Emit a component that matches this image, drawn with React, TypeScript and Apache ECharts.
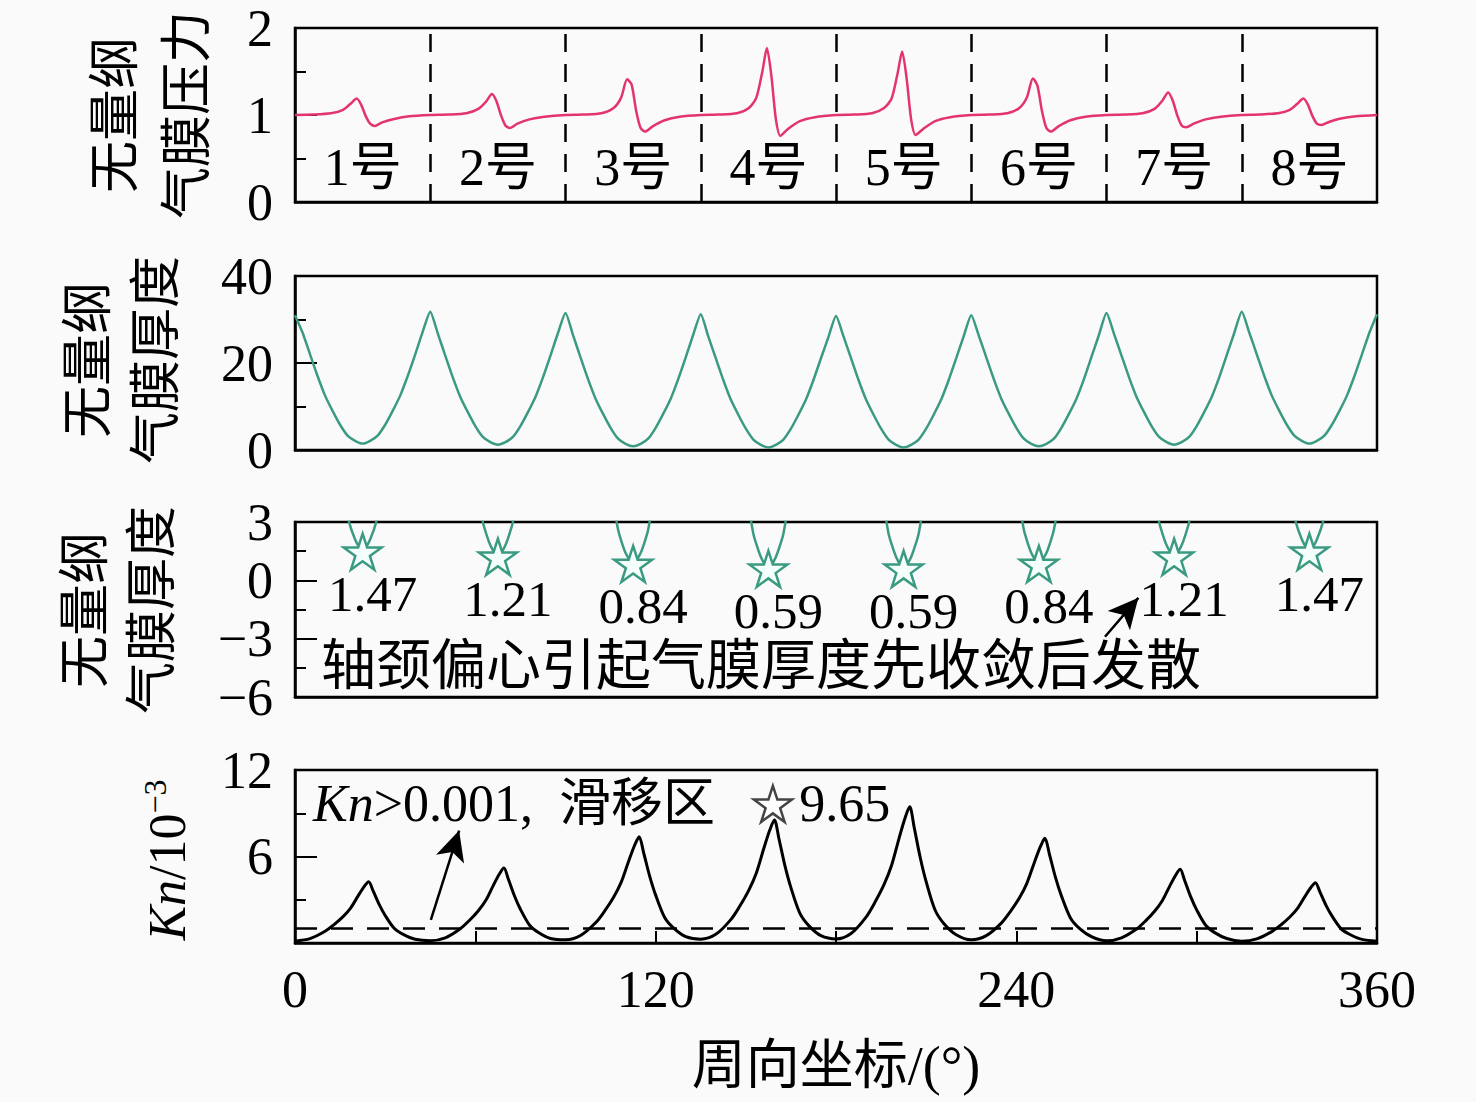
import React, { useEffect, useRef } from "react";
import * as echarts from "echarts";

// ---------- data ----------
const padStarts = [0, 45, 90, 135, 180, 225, 270, 315];
const padNames = ["1号", "2号", "3号", "4号", "5号", "6号", "7号", "8号"];
const padCenters = [22.5, 67.5, 112.5, 157.5, 202.5, 247.5, 292.5, 337.5];
const padBoundaries = [45, 90, 135, 180, 225, 270, 315];

// dimensionless film pressure (offset inside each pad, deg)
const pOffsets = [0, 6, 12, 16, 18.5, 20.5, 22, 23.5, 25, 26.5, 29, 33, 38];
const p1 = [1.0, 1.005, 1.02, 1.06, 1.13, 1.19, 1.12, 0.99, 0.9, 0.875, 0.915, 0.955, 0.985];
const p2 = [1.0, 1.005, 1.02, 1.07, 1.15, 1.24, 1.16, 1.0, 0.88, 0.85, 0.9, 0.95, 0.98];
const p3 = [1.0, 1.005, 1.02, 1.08, 1.2, 1.41, 1.35, 1.05, 0.85, 0.81, 0.87, 0.94, 0.98];
const p4 = [1.0, 1.005, 1.02, 1.08, 1.2, 1.5, 1.77, 1.45, 0.95, 0.76, 0.84, 0.93, 0.975];
const p5 = [1.0, 1.005, 1.02, 1.08, 1.19, 1.48, 1.73, 1.42, 0.95, 0.77, 0.84, 0.93, 0.975];
const p6 = [1.0, 1.005, 1.02, 1.08, 1.2, 1.42, 1.34, 1.05, 0.85, 0.81, 0.87, 0.94, 0.98];
const p7 = [1.0, 1.005, 1.02, 1.07, 1.16, 1.26, 1.17, 1.0, 0.88, 0.86, 0.9, 0.95, 0.98];
const p8 = [1.0, 1.005, 1.02, 1.06, 1.13, 1.19, 1.12, 0.99, 0.9, 0.885, 0.92, 0.96, 0.985];
const pEnd = 1.0;

// dimensionless film thickness
const hOffsets = [0, 2.5, 5, 7.5, 10, 12.5, 15, 17.5, 20, 22.5, 25, 27.5, 30, 32.5, 35, 37.5, 40, 42.5];
const h1 = [31.0, 27.0, 22.0, 17.0, 12.5, 9.0, 5.8, 3.3, 2.1, 1.47, 2.1, 3.3, 5.8, 9.0, 12.5, 17.0, 22.0, 27.2];
const h2 = [31.8, 26.8, 21.7, 16.7, 12.2, 8.7, 5.5, 3.0, 1.8, 1.21, 1.8, 3.0, 5.5, 8.7, 12.2, 16.7, 21.7, 26.9];
const h3 = [31.5, 26.4, 21.3, 16.3, 11.8, 8.3, 5.1, 2.6, 1.4, 0.84, 1.4, 2.6, 5.1, 8.3, 11.8, 16.3, 21.3, 26.5];
const h4 = [31.2, 26.1, 21.1, 16.1, 11.6, 8.1, 4.9, 2.4, 1.2, 0.59, 1.2, 2.4, 4.9, 8.1, 11.6, 16.1, 21.1, 26.0];
const h5 = [30.8, 26.1, 21.1, 16.1, 11.6, 8.1, 4.9, 2.4, 1.2, 0.59, 1.2, 2.4, 4.9, 8.1, 11.6, 16.1, 21.1, 26.2];
const h6 = [31.0, 26.3, 21.3, 16.3, 11.8, 8.3, 5.1, 2.6, 1.4, 0.84, 1.4, 2.6, 5.1, 8.3, 11.8, 16.3, 21.4, 26.5];
const h7 = [31.5, 26.7, 21.7, 16.7, 12.2, 8.7, 5.5, 3.0, 1.8, 1.21, 1.8, 3.0, 5.5, 8.7, 12.2, 16.7, 21.8, 26.9];
const h8 = [31.8, 27.0, 22.0, 17.0, 12.5, 9.0, 5.8, 3.3, 2.1, 1.47, 2.1, 3.3, 5.8, 9.0, 12.5, 17.0, 22.0, 27.0];
const hEnd = 31.2;

// minimum film thickness per pad
const minX = [22.5, 67.5, 112.5, 157.5, 202.5, 247.5, 292.5, 337.5];
const minH = [1.47, 1.21, 0.84, 0.59, 0.59, 0.84, 1.21, 1.47];

// Knudsen number /1e-3
const knOffsets = [0, 5, 10, 13, 16, 18.5, 21, 23, 24.5, 26, 28, 30, 33, 36, 40];
const kn1 = [0.13, 0.3, 0.81, 1.28, 1.83, 2.42, 3.27, 3.91, 4.25, 3.61, 2.68, 1.91, 1.02, 0.6, 0.26];
const kn2 = [0.16, 0.36, 0.99, 1.56, 2.24, 2.96, 4.0, 4.78, 5.2, 4.42, 3.28, 2.34, 1.25, 0.73, 0.31];
const kn3 = [0.22, 0.52, 1.4, 2.21, 3.17, 4.2, 5.67, 6.78, 7.37, 6.26, 4.64, 3.32, 1.77, 1.03, 0.44];
const kn4 = [0.26, 0.6, 1.62, 2.56, 3.67, 4.86, 6.57, 7.85, 8.53, 7.25, 5.37, 3.84, 2.05, 1.19, 0.51];
const kn5 = [0.28, 0.66, 1.8, 2.84, 4.06, 5.39, 7.28, 8.69, 9.45, 8.03, 5.95, 4.25, 2.27, 1.32, 0.57];
const kn6 = [0.22, 0.51, 1.38, 2.18, 3.12, 4.14, 5.59, 6.68, 7.26, 6.17, 4.57, 3.27, 1.74, 1.02, 0.44];
const kn7 = [0.15, 0.36, 0.97, 1.53, 2.2, 2.91, 3.93, 4.7, 5.11, 4.34, 3.22, 2.3, 1.23, 0.72, 0.31];
const kn8 = [0.13, 0.29, 0.79, 1.25, 1.8, 2.38, 3.22, 3.85, 4.18, 3.55, 2.63, 1.88, 1.0, 0.59, 0.25];
const knEnd = 0.13;
const knLimit = 1;
const knMark = [159, 9.65];

// tick labels
const xTicks = [0, 120, 240, 360];

const FONT = '"Liberation Serif", "Times New Roman", "Noto Sans CJK SC", serif';
const PINK = "#e3346c";
const TEAL = "#3a9a82";

function buildCurve(offsets: number[], pads: number[][], end: number) {
  const pts: number[][] = [];
  pads.forEach((vals, i) => {
    offsets.forEach((o, j) => pts.push([padStarts[i] + o, vals[j]]));
  });
  pts.push([360, end]);
  return pts;
}

const minus = (v: number) => (v < 0 ? "\u2212" + Math.abs(v) : String(v));

export default function App() {
  const ref = useRef<HTMLDivElement>(null);

  useEffect(() => {
    document.body.style.margin = "0";
    if (!ref.current) return;
    const chart = echarts.init(ref.current, undefined, { renderer: "svg" });

    const pressure = buildCurve(pOffsets, [p1, p2, p3, p4, p5, p6, p7, p8], pEnd);
    const thick = buildCurve(hOffsets, [h1, h2, h3, h4, h5, h6, h7, h8], hEnd);
    const kn = buildCurve(knOffsets, [kn1, kn2, kn3, kn4, kn5, kn6, kn7, kn8], knEnd);

    const grids = [
      { left: 295, top: 28, width: 1082, height: 174 },
      { left: 295, top: 276, width: 1082, height: 174 },
      { left: 295, top: 522, width: 1082, height: 175 },
      { left: 295, top: 770, width: 1082, height: 173 },
    ].map((g) => ({ ...g, show: true, borderColor: "#000", borderWidth: 2.5, backgroundColor: "transparent" }));

    const xAxis = [0, 1, 2, 3].map((i) => ({
      type: "value",
      gridIndex: i,
      min: 0,
      max: 360,
      interval: 120,
      axisLine: { show: true, onZero: false, lineStyle: { color: "#000", width: 2.5 } },
      axisTick: { show: i === 3, inside: true, length: 12, lineStyle: { color: "#000", width: 2 } },
      minorTick: { show: i === 3, splitNumber: 2, length: 12, lineStyle: { color: "#000", width: 2 } },
      splitLine: { show: false },
      axisLabel: {
        show: i === 3,
        fontFamily: FONT,
        fontSize: 52,
        color: "#000",
        margin: 20,
        formatter: (v: number) => (xTicks.includes(v) ? String(v) : ""),
      },
    }));

    const yCfg = [
      { min: 0, max: 2, interval: 1, hideZero: false },
      { min: 0, max: 40, interval: 20, hideZero: false },
      { min: -6, max: 3, interval: 3, hideZero: false },
      { min: 0, max: 12, interval: 6, hideZero: true },
    ];
    const yAxis = yCfg.map((c, i) => ({
      type: "value",
      gridIndex: i,
      min: c.min,
      max: c.max,
      interval: c.interval,
      axisLine: { show: true, onZero: false, lineStyle: { color: "#000", width: 2.5 } },
      axisTick: { show: true, inside: true, length: 22, lineStyle: { color: "#000", width: 2 } },
      minorTick: { show: true, splitNumber: 2, length: 11, lineStyle: { color: "#000", width: 2 } },
      splitLine: { show: false },
      axisLabel: {
        fontFamily: FONT,
        fontSize: 52,
        color: "#000",
        margin: 22,
        formatter: (v: number) => (c.hideZero && v === 0 ? "" : minus(v)),
      },
    }));

    const starPath =
      "path://M50 2 L61.2 36.5 L97.6 36.5 L68.2 57.9 L79.4 92.5 L50 71.1 L20.6 92.5 L31.8 57.9 L2.4 36.5 L38.8 36.5 Z";

    const option: any = {
      animation: false,
      backgroundColor: "#fafafa",
      grid: grids,
      xAxis,
      yAxis,
      series: [
        {
          type: "line",
          xAxisIndex: 0,
          yAxisIndex: 0,
          data: pressure,
          showSymbol: false,
          smooth: 0.25,
          lineStyle: { color: PINK, width: 2.5 },
          markLine: {
            silent: true,
            symbol: ["none", "none"],
            label: { show: false },
            lineStyle: { color: "#000", width: 2.5, type: [18, 12] },
            data: padBoundaries.map((b) => ({ xAxis: b })),
          },
          z: 3,
        },
        {
          type: "scatter",
          xAxisIndex: 0,
          yAxisIndex: 0,
          data: padCenters.map((c, i) => ({ value: [c, 0.4], name: padNames[i] })),
          symbolSize: 1,
          itemStyle: { color: "transparent", opacity: 1 },
          label: {
            show: true,
            position: "inside",
            formatter: (p: any) => p.name,
            fontFamily: FONT,
            fontSize: 52,
            color: "#000",
            textBorderWidth: 0,
          },
        },
        {
          type: "line",
          xAxisIndex: 1,
          yAxisIndex: 1,
          data: thick,
          showSymbol: false,
          smooth: 0.2,
          lineStyle: { color: TEAL, width: 2.5 },
        },
        {
          type: "line",
          xAxisIndex: 2,
          yAxisIndex: 2,
          data: thick,
          showSymbol: false,
          smooth: 0.2,
          clip: true,
          lineStyle: { color: TEAL, width: 2.5 },
        },
        {
          type: "scatter",
          xAxisIndex: 2,
          yAxisIndex: 2,
          data: minX.map((x, i) => [x, minH[i]]),
          symbol: starPath,
          symbolKeepAspect: true,
          symbolSize: 38,
          itemStyle: { color: "#f4fffb", borderColor: TEAL, borderWidth: 2.5, opacity: 1 },
          label: {
            show: true,
            position: "inside",
            offset: [10, 42],
            formatter: (p: any) => p.value[1].toFixed(2),
            fontFamily: FONT,
            fontSize: 51,
            lineHeight: 42,
            color: "#000",
            textBorderWidth: 0,
          },
          markLine: {
            silent: true,
            symbol: ["none", "arrow"],
            symbolSize: [22, 30],
            label: { show: false },
            lineStyle: { color: "#000", width: 2.5, type: "solid" },
            data: [[{ coord: [269.5, -2.9] }, { coord: [280.6, -0.9] }]],
          },
          z: 4,
        },
        {
          type: "line",
          xAxisIndex: 3,
          yAxisIndex: 3,
          data: kn,
          showSymbol: false,
          smooth: 0.3,
          lineStyle: { color: "#000", width: 3 },
          markLine: {
            silent: true,
            symbol: ["none", "none"],
            label: { show: false },
            lineStyle: { color: "#000", width: 2.5, type: [22, 14] },
            data: [{ yAxis: knLimit }],
          },
        },
        {
          type: "scatter",
          xAxisIndex: 3,
          yAxisIndex: 3,
          data: [knMark],
          symbol: starPath,
          symbolKeepAspect: true,
          symbolSize: 38,
          itemStyle: { color: "#ffffff", borderColor: "#444", borderWidth: 2.5, opacity: 1 },
          label: {
            show: true,
            position: "right",
            distance: 6,
            formatter: (p: any) => p.value[1].toFixed(2),
            fontFamily: FONT,
            fontSize: 52,
            color: "#000",
            textBorderWidth: 0,
          },
          markLine: {
            silent: true,
            symbol: ["none", "arrow"],
            symbolSize: [22, 30],
            label: { show: false },
            lineStyle: { color: "#000", width: 2.5, type: "solid" },
            data: [[{ coord: [45.2, 1.6] }, { coord: [54.6, 7.8] }]],
          },
        },
      ],
      graphic: [
        {
          type: "text",
          x: 151,
          y: 115,
          rotation: Math.PI / 2,
          style: {
            text: "无量纲\n气膜压力",
            fontFamily: FONT,
            fontSize: 52,
            lineHeight: 72,
            fill: "#000",
            align: "center",
            verticalAlign: "middle",
          },
        },
        {
          type: "text",
          x: 122,
          y: 360,
          rotation: Math.PI / 2,
          style: {
            text: "无量纲\n气膜厚度",
            fontFamily: FONT,
            fontSize: 52,
            lineHeight: 68,
            fill: "#000",
            align: "center",
            verticalAlign: "middle",
          },
        },
        {
          type: "text",
          x: 119,
          y: 610,
          rotation: Math.PI / 2,
          style: {
            text: "无量纲\n气膜厚度",
            fontFamily: FONT,
            fontSize: 52,
            lineHeight: 67,
            fill: "#000",
            align: "center",
            verticalAlign: "middle",
          },
        },
        {
          type: "text",
          x: 167,
          y: 860,
          rotation: Math.PI / 2,
          style: {
            text: "{i|Kn}{n|/10}{s|\u22123}",
            align: "center",
            verticalAlign: "middle",
            rich: {
              i: { fontFamily: FONT, fontStyle: "italic", fontSize: 52, lineHeight: 56, fill: "#000" },
              n: { fontFamily: FONT, fontSize: 52, lineHeight: 56, fill: "#000" },
              s: { fontFamily: FONT, fontSize: 32, lineHeight: 56, verticalAlign: "top", fill: "#000" },
            },
          },
        },
        {
          type: "text",
          x: 836,
          y: 1066,
          style: {
            text: "周向坐标/(°)",
            fontFamily: FONT,
            fontSize: 54,
            fill: "#000",
            align: "center",
            verticalAlign: "middle",
          },
        },
        {
          type: "text",
          x: 321,
          y: 665,
          style: {
            text: "轴颈偏心引起气膜厚度先收敛后发散",
            fontFamily: FONT,
            fontSize: 55,
            lineHeight: 48,
            fill: "#000",
            align: "left",
            verticalAlign: "middle",
          },
        },
        {
          type: "text",
          x: 313,
          y: 803,
          style: {
            text: "{i|Kn}{n|>0.001,  滑移区}",
            align: "left",
            verticalAlign: "middle",
            rich: {
              i: { fontFamily: FONT, fontStyle: "italic", fontSize: 52, fill: "#000" },
              n: { fontFamily: FONT, fontSize: 52, fill: "#000" },
            },
          },
        },
      ],
    };

    chart.setOption(option);
    return () => chart.dispose();
  }, []);

  return <div ref={ref} style={{ width: 1476, height: 1102 }} />;
}
